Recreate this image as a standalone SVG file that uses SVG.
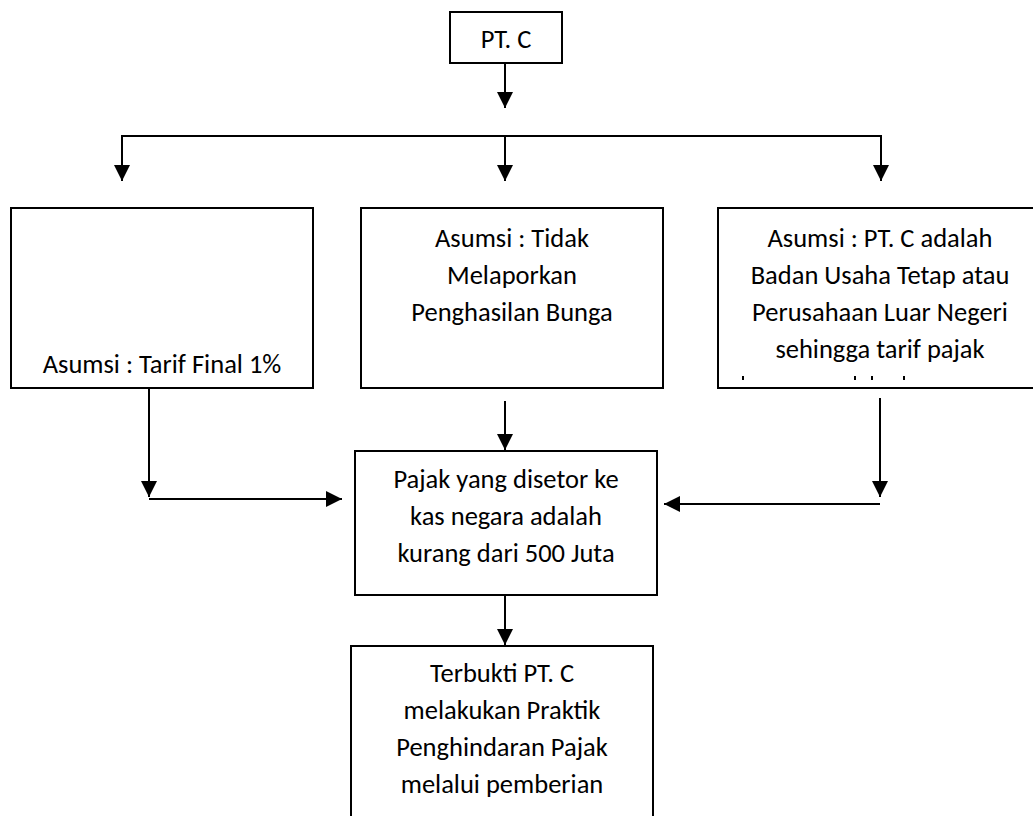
<svg xmlns="http://www.w3.org/2000/svg" width="1033" height="816" viewBox="0 0 1033 816">
<style>
.box{fill:#fff;stroke:#000;stroke-width:2}
.t{font-family:Carlito,Calibri,Lato,"Open Sans",sans-serif;font-size:26.5px;fill:#000;text-anchor:middle}
.c{fill:none;stroke:#000;stroke-width:2}
.frag{fill:#000}
</style>
<defs>
<marker id="ah" markerUnits="userSpaceOnUse" markerWidth="16" markerHeight="16" refX="16" refY="8" orient="auto" viewBox="0 0 16 16">
<path d="M0,0 L16,8 L0,16 z" fill="#000"/>
</marker>
<clipPath id="rclip"><rect x="718" y="208" width="330" height="172"/></clipPath>
</defs>
<rect width="1033" height="816" fill="#fff"/>
<g id="connectors">
<line class="c" x1="505" y1="63" x2="505" y2="108" marker-end="url(#ah)"/>
<polyline class="c" points="122,181 122,136 881,136 881,181" marker-end="url(#ah)"/>
<line class="c" x1="122" y1="136" x2="122" y2="181" marker-end="url(#ah)"/>
<line class="c" x1="505" y1="136" x2="505" y2="181" marker-end="url(#ah)"/>
<line class="c" x1="149" y1="388" x2="149" y2="497" marker-end="url(#ah)"/>
<line class="c" x1="149" y1="499" x2="342" y2="499" marker-end="url(#ah)"/>
<line class="c" x1="505" y1="401" x2="505" y2="450" marker-end="url(#ah)"/>
<line class="c" x1="880" y1="398" x2="880" y2="497" marker-end="url(#ah)"/>
<line class="c" x1="880" y1="504" x2="664" y2="504" marker-end="url(#ah)"/>
<line class="c" x1="505" y1="595" x2="505" y2="645" marker-end="url(#ah)"/>
</g>
<g id="node-ptc">
<rect class="box" x="450" y="12" width="112" height="51"/>
<text class="t" x="506" y="48">PT. C</text>
</g>
<g id="node-tarif">
<rect class="box" x="11" y="208" width="302" height="180"/>
<text class="t" x="162" y="373">Asumsi : Tarif Final 1%</text>
</g>
<g id="node-tidak">
<rect class="box" x="361" y="208" width="302" height="180"/>
<text class="t" x="512" y="247">Asumsi : Tidak</text>
<text class="t" x="512" y="284">Melaporkan</text>
<text class="t" x="512" y="321">Penghasilan Bunga</text>
</g>
<g id="node-but">
<rect class="box" x="718" y="208" width="324" height="180"/>
<text class="t" x="880" y="247">Asumsi : PT. C adalah</text>
<text class="t" x="880" y="284">Badan Usaha Tetap atau</text>
<text class="t" x="880" y="321">Perusahaan Luar Negeri</text>
<text class="t" x="880" y="358">sehingga tarif pajak</text>
<g clip-path="url(#rclip)">
<rect class="frag" x="742" y="376" width="2" height="4"/>
<rect class="frag" x="854" y="376" width="2" height="4"/>
<rect class="frag" x="871" y="376" width="2" height="4"/>
<rect class="frag" x="903" y="376" width="2" height="4"/>
</g>
</g>
<g id="node-pajak">
<rect class="box" x="355" y="451" width="302" height="144"/>
<text class="t" x="506" y="488">Pajak yang disetor ke</text>
<text class="t" x="506" y="525">kas negara adalah</text>
<text class="t" x="506" y="562">kurang dari 500 Juta</text>
</g>
<g id="node-terbukti">
<rect class="box" x="351" y="646" width="302" height="200"/>
<text class="t" x="502" y="682">Terbukti PT. C</text>
<text class="t" x="502" y="719">melakukan Praktik</text>
<text class="t" x="502" y="756">Penghindaran Pajak</text>
<text class="t" x="502" y="793">melalui pemberian</text>
</g>
</svg>
